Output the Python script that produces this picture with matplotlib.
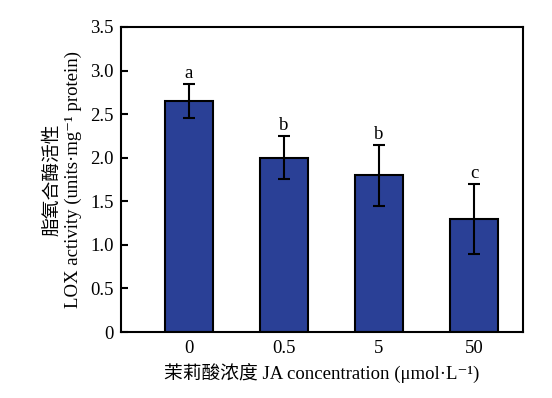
import numpy as np
import matplotlib
matplotlib.use('Agg')
import matplotlib.pyplot as plt

# serif for Latin text, CJK and DejaVu as per-glyph fallbacks
plt.rcParams['font.family'] = ['Liberation Serif', 'Noto Sans CJK SC', 'DejaVu Sans']

# ── Data ──────────────────────────────────────────────────────────────────────
categories = ['0', '0.5', '5', '50']
lox_mean   = [2.65, 2.00, 1.80, 1.30]
lox_err    = [0.20, 0.25, 0.35, 0.40]
sig_labels = ['a', 'b', 'b', 'c']

# ── Plot ──────────────────────────────────────────────────────────────────────
fig = plt.figure(figsize=(5.52, 3.98), dpi=100)
ax = fig.add_axes([0.2192, 0.1658, 0.7283, 0.7664])

x = np.arange(len(categories))
ax.bar(x, lox_mean, width=0.5, color='#2a4096', edgecolor='black', linewidth=1.5,
       yerr=lox_err, error_kw=dict(ecolor='black', elinewidth=1.5, capsize=4, capthick=1.5))

for xi, m, e, s in zip(x, lox_mean, lox_err, sig_labels):
    ax.text(xi, m + e + 0.02, s, ha='center', va='bottom', fontsize=13.5)

ax.set_xlim(-0.716, 3.516)
ax.set_ylim(0, 3.5)
ax.set_xticks(x)
ax.set_xticklabels(categories)
ax.set_yticks(np.arange(0, 3.51, 0.5))
ax.set_yticklabels(['0'] + [f'{v:.1f}' for v in np.arange(0.5, 3.51, 0.5)])
ax.tick_params(axis='y', direction='in', length=5, width=1.5, labelsize=13.5, pad=5)
ax.tick_params(axis='x', length=0, labelsize=13.5, pad=6)
for sp in ax.spines.values():
    sp.set_linewidth(1.5)

ax.set_ylabel('脂氧合酶活性\nLOX activity (units·mg⁻¹ protein)', fontsize=13.5,
              linespacing=1.25, labelpad=6)
ax.set_xlabel('茉莉酸浓度 JA concentration (μmol·L⁻¹)', fontsize=13.5, labelpad=5)

plt.savefig('out.png', dpi=100)
